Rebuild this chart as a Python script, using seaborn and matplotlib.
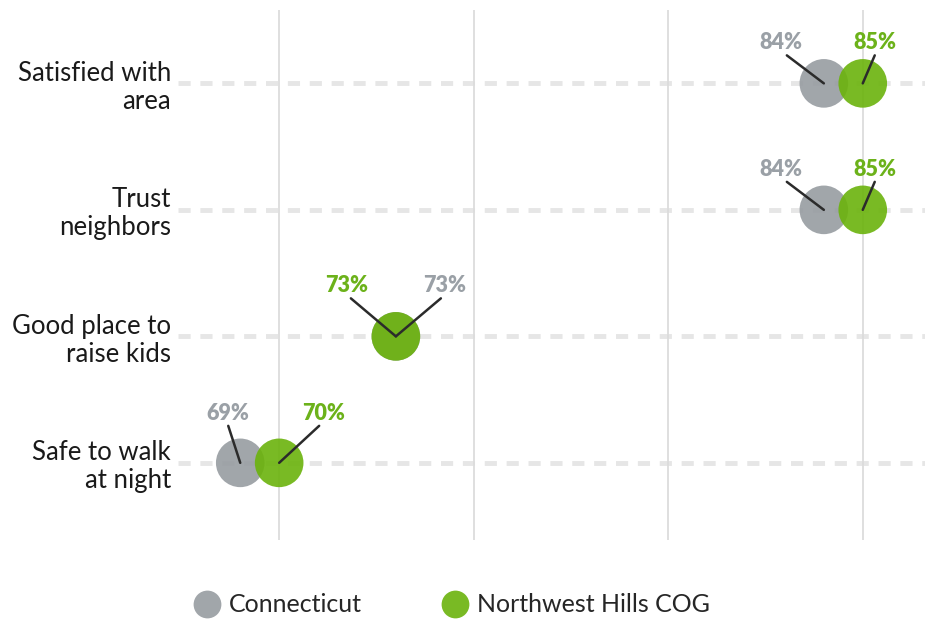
import pandas as pd
import numpy as np
import matplotlib
matplotlib.use("Agg")
import matplotlib.pyplot as plt
import seaborn as sns
from matplotlib.lines import Line2D

# data
measures = ["Satisfied with\narea", "Trust\nneighbors", "Good place to\nraise kids", "Safe to walk\nat night"]
ct_values = [84, 84, 73, 69]
nw_values = [85, 85, 73, 70]
regions = ["Connecticut", "Northwest Hills COG"]

GRAY = "#979ca1"
GREEN = "#6bb30c"
GRAY_TXT = "#9aa0a6"
GREEN_TXT = "#6cb21a"

# leader line offsets (px) per row: (connecticut, northwest)
label_offsets = [
    ((-37, 28), (12, 28)),
    ((-37, 28), (12, 28)),
    ((45, 38), (-45, 38)),
    ((-12, 37), (40, 37)),
]
# small horizontal nudge of the text vs the line end
text_nudge = [(-6, 0), (-6, 0), (4, -4), (0, 4)]

df = pd.DataFrame({
    "measure": measures * 2,
    "value": ct_values + nw_values,
    "region": [regions[0]] * 4 + [regions[1]] * 4,
})

sns.set_style("white")
plt.rcParams["font.family"] = ["Lato", "DejaVu Sans"]

fig = plt.figure(figsize=(9.35, 6.2), dpi=100)
ax = fig.add_axes([178 / 935, 80 / 620, (925 - 178) / 935, 530 / 620])

for i in range(len(measures)):
    ax.axhline(i, color="#e6e6e6", lw=3.5, dashes=(2.5, 2.0), zorder=0)

sns.stripplot(
    data=df, x="value", y="measure", hue="region", order=measures,
    palette=[GRAY, GREEN], jitter=False, dodge=False, size=35,
    alpha=0.9, linewidth=0, legend=False, ax=ax, zorder=3,
)

ax.set_xlim(67.4, 86.6)
ax.set_ylim(3.61, -0.58)
ax.set_xticks([70, 75, 80, 85])
ax.set_xticklabels([])
ax.grid(axis="x", color="#dcdcdc", lw=1.3, zorder=0)
ax.set_axisbelow(True)
ax.tick_params(axis="both", length=0)
ax.tick_params(axis="y", labelsize=18.5, pad=5, colors="#1a1a1a")
for t in ax.get_yticklabels():
    t.set_linespacing(1.15)
ax.set_xlabel("")
ax.set_ylabel("")
sns.despine(ax=ax, left=True, bottom=True)

for i in range(len(measures)):
    pairs = ((ct_values[i], label_offsets[i][0], text_nudge[i][0], GRAY_TXT),
             (nw_values[i], label_offsets[i][1], text_nudge[i][1], GREEN_TXT))
    for val, off, nudge, col in pairs:
        ax.annotate(
            "", xy=(val, i), xytext=off, textcoords="offset pixels",
            arrowprops=dict(arrowstyle="-", color="#2b2b2b", lw=1.8,
                            shrinkA=0, shrinkB=0, patchA=None, patchB=None),
            zorder=5,
        )
        ax.annotate(
            f"{val}%", xy=(val, i), xytext=(off[0] + nudge, off[1] + 2),
            textcoords="offset pixels", ha="center", va="bottom",
            fontsize=15.5, fontweight="heavy", color=col, zorder=5,
        )

handles = [Line2D([], [], marker="o", ls="", markersize=20, markerfacecolor=c,
                  markeredgewidth=0, alpha=0.9) for c in (GRAY, GREEN)]
fig.legend(handles, regions, loc="center", bbox_to_anchor=(452 / 935, 15 / 620),
           ncol=2, frameon=False, fontsize=18, handletextpad=0.4,
           columnspacing=3.2, handlelength=1.0)

fig.savefig("out.png", dpi=100)
